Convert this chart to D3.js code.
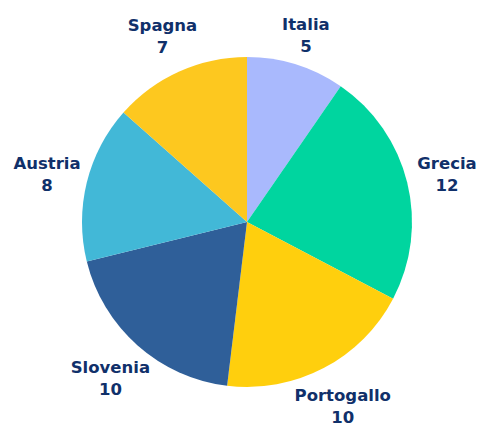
<!DOCTYPE html>
<html>
<head>
<meta charset="utf-8">
<script src="https://cdn.jsdelivr.net/npm/d3@7"></script>
<style>
  body { margin: 0; background: #fff; }
  svg text { font-family: "DejaVu Sans", sans-serif; font-weight: bold; fill: #10306a; font-size: 16.5px; }
</style>
</head>
<body>
<svg id="chart" width="477" height="423"></svg>
<script>
const categories = ["Italia", "Grecia", "Portogallo", "Slovenia", "Austria", "Spagna"];
const values = [5, 12, 10, 10, 8, 7];
const colors = ["#a9b9fd", "#00d59f", "#ffcf0d", "#2f5f99", "#42b8d7", "#fdc81f"];

const svg = d3.select("#chart");
const cx = 247, cy = 222, R = 165, labelR = 206, minY = -189;
const g = svg.append("g").attr("transform", `translate(${cx},${cy})`);

const data = categories.map((c, i) => ({ name: c, value: values[i], color: colors[i] }));
const pie = d3.pie().value(d => d.value).sort(null);
const arcs = pie(data);
const arc = d3.arc().innerRadius(0).outerRadius(R);

g.selectAll("path").data(arcs).join("path")
  .attr("d", arc)
  .attr("fill", d => d.data.color);

function labelPos(d) {
  const a = (d.startAngle + d.endAngle) / 2;
  let r = labelR;
  const y0 = -r * Math.cos(a);
  if (y0 < minY) r = minY / -Math.cos(a);
  return [r * Math.sin(a), -r * Math.cos(a)];
}

const lab = g.selectAll("text.lab").data(arcs).join("text")
  .attr("class", "lab")
  .attr("text-anchor", "middle")
  .attr("transform", d => { const [x, y] = labelPos(d); return `translate(${x},${y})`; });
lab.append("tspan").attr("x", 0).attr("y", -3.5).text(d => d.data.name);
lab.append("tspan").attr("x", 0).attr("y", 18.5).text(d => d.data.value);
</script>
</body>
</html>
